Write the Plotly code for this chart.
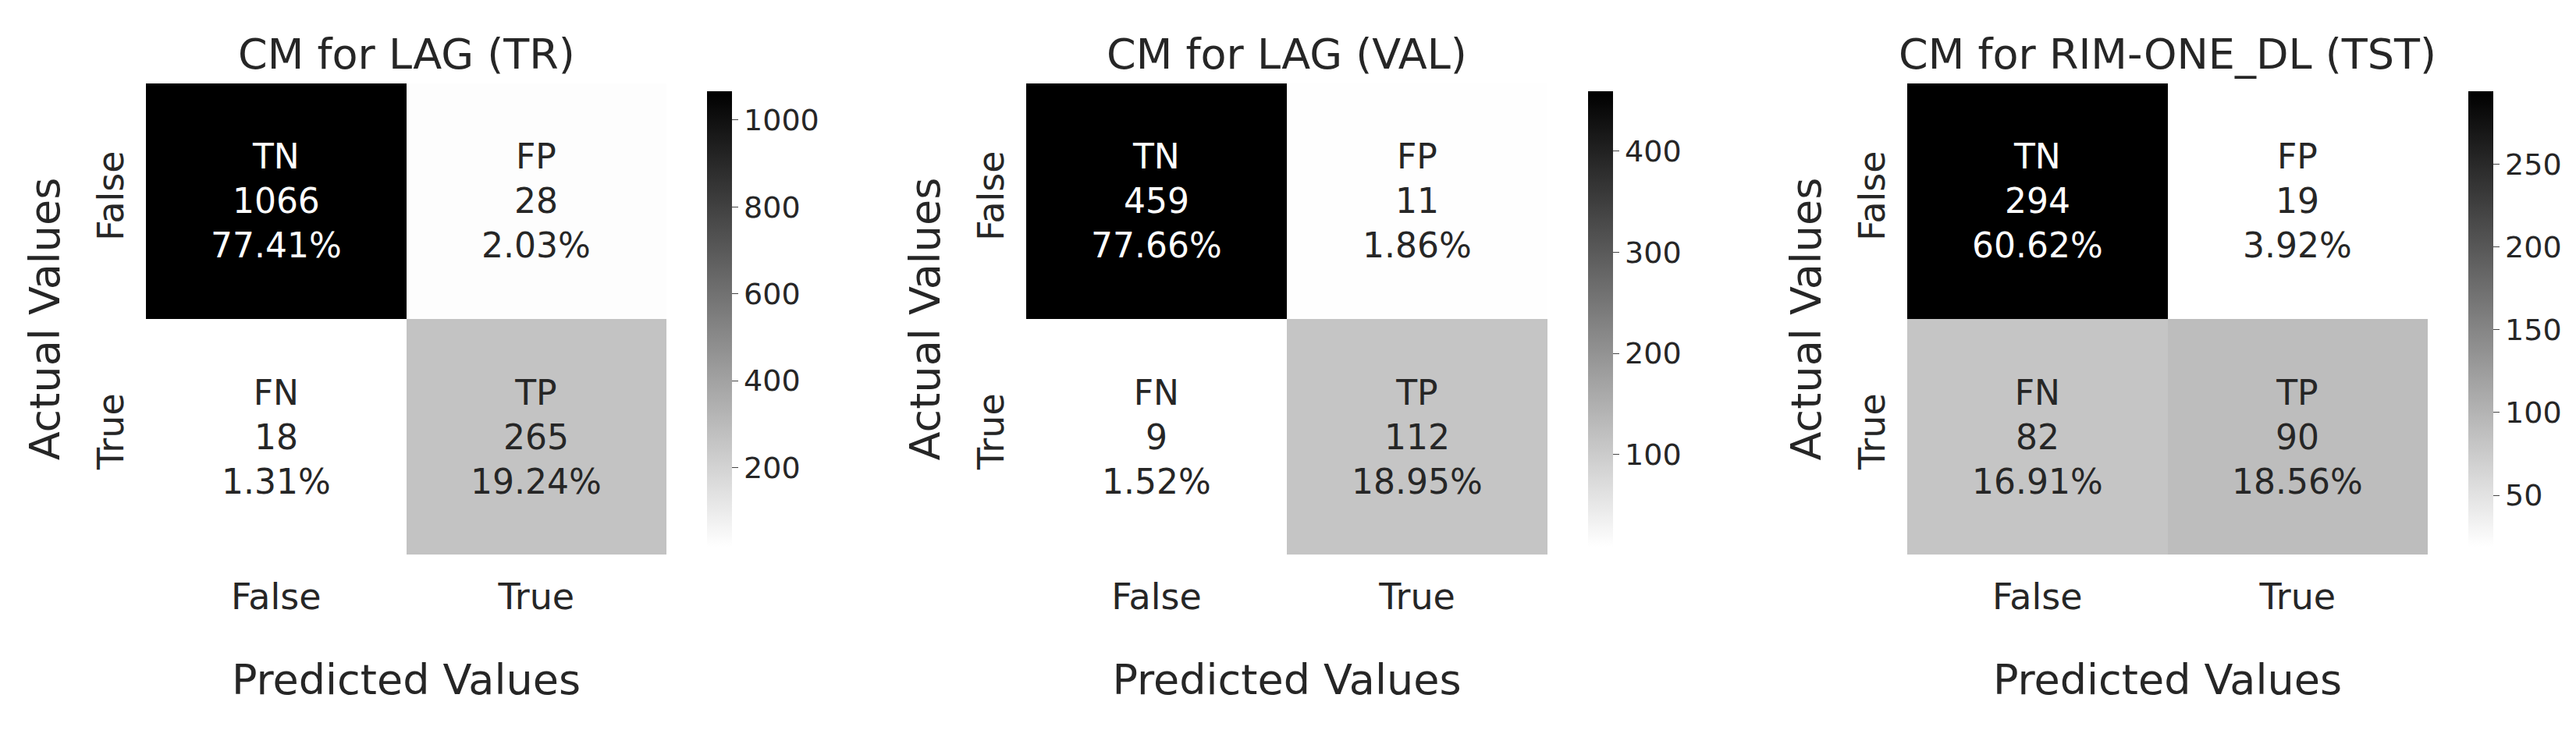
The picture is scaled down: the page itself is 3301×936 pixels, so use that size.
import plotly.graph_objects as go

titles = ["CM for LAG (TR)", "CM for LAG (VAL)", "CM for RIM-ONE_DL (TST)"]
labels = ["False", "True"]
cell_names = [["TN", "FP"], ["FN", "TP"]]
counts_tr = [[1066, 28], [18, 265]]
counts_val = [[459, 11], [9, 112]]
counts_tst = [[294, 19], [82, 90]]
pct_tr = [["77.41%", "2.03%"], ["1.31%", "19.24%"]]
pct_val = [["77.66%", "1.86%"], ["1.52%", "18.95%"]]
pct_tst = [["60.62%", "3.92%"], ["16.91%", "18.56%"]]
cbar_ticks = [[200, 400, 600, 800, 1000], [100, 200, 300, 400], [50, 100, 150, 200, 250]]

W, H = 3301, 936
xdoms = [(179, 846), (1307, 1975), (2436, 3103)]
cbx = [888, 2017, 3145]
ytop, ybot = 1 - 99 / H, 1 - 703 / H
FONT = "DejaVu Sans"
dark = "#262626"

fig = go.Figure()
layout = dict(width=W, height=H, margin=dict(l=0, r=0, t=0, b=0),
              paper_bgcolor="white", plot_bgcolor="white",
              font=dict(family=FONT, color=dark), annotations=[])
datasets = [(counts_tr, pct_tr), (counts_val, pct_val), (counts_tst, pct_tst)]
for i, (cnt, pct) in enumerate(datasets):
    n = "" if i == 0 else str(i + 1)
    flat = [v for r in cnt for v in r]
    vmin, vmax = min(flat), max(flat)
    fig.add_trace(go.Heatmap(
        z=cnt, x=labels, y=labels, xaxis="x" + n, yaxis="y" + n,
        colorscale=[[0, "white"], [1, "black"]], zmin=vmin, zmax=vmax,
        xgap=0, ygap=0, hoverinfo="skip",
        colorbar=dict(x=cbx[i] / W, xanchor="left", thickness=32, len=ytop - ybot,
                      lenmode="fraction", y=ybot, yanchor="bottom", outlinewidth=0,
                      tickvals=cbar_ticks[i], ticks="outside", ticklen=8,
                      tickfont=dict(size=38, family=FONT, color=dark))))
    d0, d1 = xdoms[i]
    layout["xaxis" + n] = dict(domain=[d0 / W, d1 / W], anchor="y" + n, type="category",
                               automargin=False,
                               showgrid=False, zeroline=False, ticks="outside", ticklen=14,
                               tickcolor="rgba(0,0,0,0)",
                               tickfont=dict(size=46, family=FONT, color=dark),
                               title=dict(text="Predicted Values", font=dict(size=54, family=FONT, color=dark), standoff=60))
    layout["yaxis" + n] = dict(domain=[ybot, ytop], anchor="x" + n, type="category",
                               automargin=False,
                               autorange="reversed", showgrid=False, zeroline=False,
                               tickangle=-90, ticks="outside", ticklen=10, tickcolor="rgba(0,0,0,0)",
                               tickfont=dict(size=46, family=FONT, color=dark),
                               title=dict(text="Actual Values", font=dict(size=54, family=FONT, color=dark), standoff=20))
    layout["annotations"].append(dict(text=titles[i], xref="paper", yref="paper",
                                      x=(d0 + d1) / 2 / W, xanchor="center", y=ytop, yanchor="bottom", yshift=4,
                                      showarrow=False, font=dict(size=54, family=FONT, color=dark)))
    for r in range(2):
        for c in range(2):
            frac = (cnt[r][c] - vmin) / (vmax - vmin)
            col = "white" if frac > 0.5 else dark
            layout["annotations"].append(dict(
                text=f"{cell_names[r][c]}<br>{cnt[r][c]}<br>{pct[r][c]}",
                xref="x" + n, yref="y" + n, x=labels[c], y=labels[r], showarrow=False,
                font=dict(size=44, family=FONT, color=col)))
fig.update_layout(**layout)
fig.write_html("out.html")
